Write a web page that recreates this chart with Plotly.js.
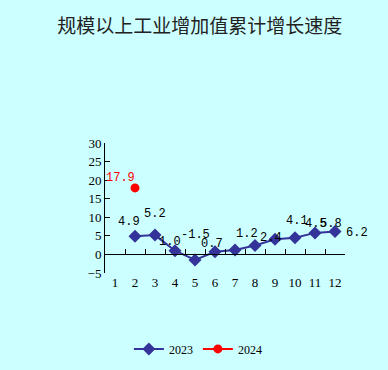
<!DOCTYPE html>
<html><head><meta charset="utf-8">
<script src="https://cdn.plot.ly/plotly-3.0.1.min.js"></script>
<style>html,body{margin:0;padding:0;background:#CCFFFF;}</style>
</head><body><div id="chart" style="width:388px;height:370px;"></div>
<script>
const months = ["1","2","3","4","5","6","7","8","9","10","11","12"];
const months2023 = ["2","3","4","5","6","7","8","9","10","11","12"];
const values2023 = [4.9, 5.2, 1.0, -1.5, 0.7, 1.2, 2.4, 4.1, 4.5, 5.8, 6.2];
const months2024 = ["2"];
const values2024 = [17.9];
const yTicks = [-5, 0, 5, 10, 15, 20, 25, 30];

// label offsets (px) – styling only
const off2023 = [[-6,14],[0,21],[-5,9],[0,25],[-3,8],[12,16],[16,8],[22,18],[21,14],[16,9],[22,-2]];
const off2024 = [[-15,10]];

const yMin = -5, yMax = 30;
const labelFont = {family: "Liberation Mono, monospace", size: 12};

const traces = [
  {x: months2023, y: values2023, name: "2023", type: "scatter", mode: "lines+markers", cliponaxis: false,
   line: {color: "#333399", width: 2}, marker: {symbol: "diamond", size: 10, color: "#333399"}},
  {x: months2024, y: values2024, name: "2024", type: "scatter", mode: "lines+markers", cliponaxis: false,
   line: {color: "#FF0000", width: 2}, marker: {symbol: "circle", size: 9, color: "#FF0000"}},
  {x: months, y: months.map(() => null), xaxis: "x2", yaxis: "y", showlegend: false, hoverinfo: "skip", type: "scatter", mode: "lines"}
];

const annotations = [];
months2023.forEach((m, i) => annotations.push({x: months.indexOf(m), y: values2023[i], text: values2023[i].toFixed(1),
  xref: "x", yref: "y", showarrow: false, xshift: off2023[i][0], yshift: off2023[i][1], font: Object.assign({color: "#000"}, labelFont)}));
months2024.forEach((m, i) => annotations.push({x: months.indexOf(m), y: values2024[i], text: values2024[i].toFixed(1),
  xref: "x", yref: "y", showarrow: false, xshift: off2024[i][0], yshift: off2024[i][1], font: Object.assign({color: "#FF0000"}, labelFont)}));

const zeroPos = (0 - yMin) / (yMax - yMin);

const layout = {
  width: 388, height: 370,
  paper_bgcolor: "#CCFFFF", plot_bgcolor: "#CCFFFF",
  margin: {l: 105, r: 43, t: 143, b: 97},
  title: {text: "规模以上工业增加值累计增长速度", font: {family: "Noto Sans CJK SC", size: 19, color: "#222"},
          x: 0.515, xref: "container", xanchor: "center", y: 0.93, yref: "container", yanchor: "middle"},
  xaxis: {type: "category", categoryorder: "array", categoryarray: months, range: [-0.5, 11.5],
          showline: false, ticks: "", showgrid: false, zeroline: false,
          tickfont: {family: "Liberation Serif", size: 13, color: "#000"}},
  xaxis2: {type: "category", categoryorder: "array", categoryarray: months, range: [-0.5, 11.5],
           overlaying: "x", anchor: "free", position: zeroPos, showline: true, linecolor: "#000", linewidth: 1,
           ticks: "inside", ticklen: 5, tickcolor: "#000", tickson: "boundaries", showticklabels: false,
           showgrid: false, zeroline: false},
  yaxis: {range: [yMin, yMax], tickvals: yTicks, showline: true, linecolor: "#000", linewidth: 1,
          ticks: "inside", ticklen: 5, tickcolor: "#000", showgrid: false, zeroline: false,
          tickfont: {family: "Liberation Serif", size: 13, color: "#000"}},
  showlegend: true,
  legend: {orientation: "h", xref: "container", yref: "container", x: 0.51, xanchor: "center", y: 0.057, yanchor: "middle",
           bgcolor: "rgba(0,0,0,0)", font: {family: "Liberation Serif", size: 12, color: "#000"}},
  annotations: annotations
};

Plotly.newPlot("chart", traces, layout, {displayModeBar: false, staticPlot: true});
</script></body></html>
